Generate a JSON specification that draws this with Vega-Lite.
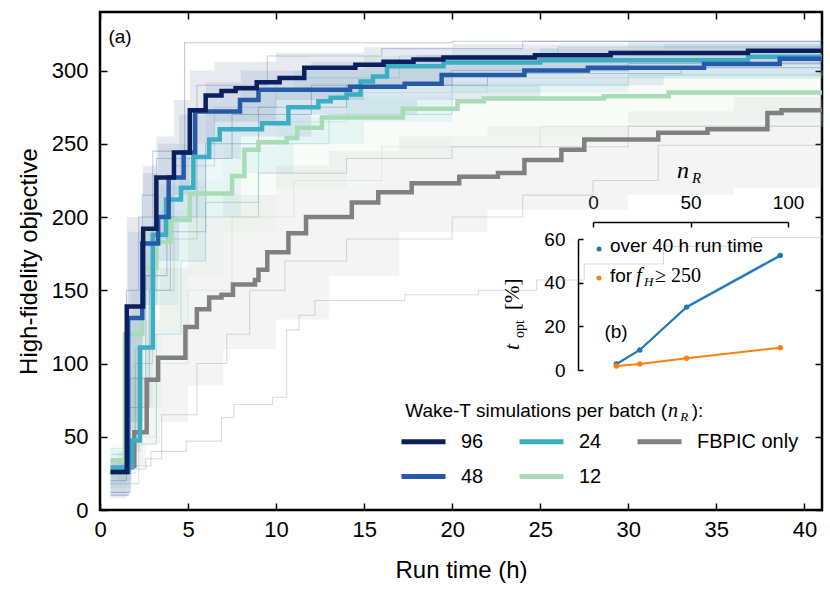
{
  "$schema": "https://vega.github.io/schema/vega-lite/v6.json",
  "width": 722,
  "height": 498,
  "autosize": "none",
  "padding": {"left": 100, "top": 12, "right": 8, "bottom": 83},
  "background": "white",
  "config": {
    "view": {"stroke": "black", "strokeWidth": 2.5},
    "font": "Liberation Sans",
    "axis": {
      "labelFont": "Liberation Sans", "titleFont": "Liberation Sans",
      "labelColor": "black", "titleColor": "black", "tickColor": "black",
      "domainColor": "black", "grid": false, "titleFontWeight": "normal",
      "labelFlush": false, "labelOverlap": false
    },
    "text": {"color": "black"}
  },
  "datasets": {
    "one": [{"id": 1}],
    "main": [
      {"s": "FBPIC only", "t": 1.6, "v": 30}, {"s": "FBPIC only", "t": 1.95, "v": 53}, {"s": "FBPIC only", "t": 2.65, "v": 89},
      {"s": "FBPIC only", "t": 3.3, "v": 104}, {"s": "FBPIC only", "t": 4.85, "v": 125}, {"s": "FBPIC only", "t": 5.5, "v": 137},
      {"s": "FBPIC only", "t": 6.2, "v": 145}, {"s": "FBPIC only", "t": 6.9, "v": 147}, {"s": "FBPIC only", "t": 7.55, "v": 154},
      {"s": "FBPIC only", "t": 8.8, "v": 157}, {"s": "FBPIC only", "t": 9.0, "v": 164}, {"s": "FBPIC only", "t": 9.5, "v": 176},
      {"s": "FBPIC only", "t": 10.7, "v": 189}, {"s": "FBPIC only", "t": 11.7, "v": 200}, {"s": "FBPIC only", "t": 14.3, "v": 210},
      {"s": "FBPIC only", "t": 15.8, "v": 217}, {"s": "FBPIC only", "t": 17.7, "v": 223}, {"s": "FBPIC only", "t": 20.4, "v": 227.5},
      {"s": "FBPIC only", "t": 22.6, "v": 230}, {"s": "FBPIC only", "t": 24.1, "v": 239}, {"s": "FBPIC only", "t": 26.2, "v": 246},
      {"s": "FBPIC only", "t": 27.5, "v": 253}, {"s": "FBPIC only", "t": 31.7, "v": 257.5}, {"s": "FBPIC only", "t": 34.5, "v": 260},
      {"s": "FBPIC only", "t": 37.9, "v": 271}, {"s": "FBPIC only", "t": 38.7, "v": 273}, {"s": "FBPIC only", "t": 41, "v": 273},
      {"s": "12", "t": 0.6, "v": 34}, {"s": "12", "t": 1.42, "v": 120}, {"s": "12", "t": 2.4, "v": 165},
      {"s": "12", "t": 3.2, "v": 183}, {"s": "12", "t": 4.0, "v": 198}, {"s": "12", "t": 5.1, "v": 216},
      {"s": "12", "t": 7.5, "v": 228}, {"s": "12", "t": 8.2, "v": 246}, {"s": "12", "t": 9.0, "v": 251},
      {"s": "12", "t": 10.6, "v": 254}, {"s": "12", "t": 11.2, "v": 261}, {"s": "12", "t": 12.6, "v": 268},
      {"s": "12", "t": 17.2, "v": 274}, {"s": "12", "t": 20.3, "v": 279}, {"s": "12", "t": 21.8, "v": 281},
      {"s": "12", "t": 28.6, "v": 282.5}, {"s": "12", "t": 32.3, "v": 285}, {"s": "12", "t": 41, "v": 285},
      {"s": "24", "t": 0.6, "v": 29}, {"s": "24", "t": 1.8, "v": 47.5}, {"s": "24", "t": 2.27, "v": 111},
      {"s": "24", "t": 3.0, "v": 188}, {"s": "24", "t": 3.75, "v": 212}, {"s": "24", "t": 4.6, "v": 220},
      {"s": "24", "t": 5.3, "v": 241}, {"s": "24", "t": 6.2, "v": 253}, {"s": "24", "t": 6.8, "v": 260},
      {"s": "24", "t": 9.2, "v": 264}, {"s": "24", "t": 10.7, "v": 275}, {"s": "24", "t": 12.4, "v": 279},
      {"s": "24", "t": 13.1, "v": 281.5}, {"s": "24", "t": 14.0, "v": 283.6}, {"s": "24", "t": 14.8, "v": 292.5},
      {"s": "24", "t": 15.5, "v": 296}, {"s": "24", "t": 16.3, "v": 303}, {"s": "24", "t": 19.5, "v": 305.5},
      {"s": "24", "t": 25, "v": 307}, {"s": "24", "t": 36.8, "v": 309.5}, {"s": "24", "t": 41, "v": 309.5},
      {"s": "48", "t": 0.6, "v": 26}, {"s": "48", "t": 1.6, "v": 131}, {"s": "48", "t": 2.4, "v": 182},
      {"s": "48", "t": 3.3, "v": 200}, {"s": "48", "t": 3.9, "v": 227}, {"s": "48", "t": 4.75, "v": 244},
      {"s": "48", "t": 5.4, "v": 272}, {"s": "48", "t": 7.95, "v": 280}, {"s": "48", "t": 9.0, "v": 287},
      {"s": "48", "t": 14.2, "v": 289}, {"s": "48", "t": 17.3, "v": 291}, {"s": "48", "t": 19.4, "v": 297},
      {"s": "48", "t": 24.1, "v": 300}, {"s": "48", "t": 27.7, "v": 302}, {"s": "48", "t": 34.3, "v": 304.5},
      {"s": "48", "t": 38.6, "v": 308}, {"s": "48", "t": 41, "v": 308},
      {"s": "96", "t": 0.6, "v": 26}, {"s": "96", "t": 1.52, "v": 139}, {"s": "96", "t": 2.45, "v": 192},
      {"s": "96", "t": 3.2, "v": 227}, {"s": "96", "t": 4.2, "v": 244}, {"s": "96", "t": 5.1, "v": 273},
      {"s": "96", "t": 6.0, "v": 283}, {"s": "96", "t": 6.9, "v": 286}, {"s": "96", "t": 7.7, "v": 288},
      {"s": "96", "t": 8.9, "v": 292}, {"s": "96", "t": 10.2, "v": 295}, {"s": "96", "t": 11.6, "v": 302},
      {"s": "96", "t": 14.5, "v": 304}, {"s": "96", "t": 16.1, "v": 306}, {"s": "96", "t": 17.8, "v": 307.5},
      {"s": "96", "t": 19.5, "v": 309}, {"s": "96", "t": 24.7, "v": 310.5}, {"s": "96", "t": 29.0, "v": 312},
      {"s": "96", "t": 36.8, "v": 313.5}, {"s": "96", "t": 41, "v": 313.5}
    ],
    "bands": [
      {"s": "FBPIC only", "t": 1.0, "lo": 20, "hi": 40}, {"s": "FBPIC only", "t": 1.8, "lo": 30, "hi": 90},
      {"s": "FBPIC only", "t": 2.6, "lo": 45, "hi": 130}, {"s": "FBPIC only", "t": 3.4, "lo": 60, "hi": 165},
      {"s": "FBPIC only", "t": 5, "lo": 85, "hi": 200}, {"s": "FBPIC only", "t": 7, "lo": 110, "hi": 215},
      {"s": "FBPIC only", "t": 10, "lo": 130, "hi": 235}, {"s": "FBPIC only", "t": 13, "lo": 160, "hi": 245},
      {"s": "FBPIC only", "t": 17, "lo": 190, "hi": 255}, {"s": "FBPIC only", "t": 22, "lo": 205, "hi": 262},
      {"s": "FBPIC only", "t": 30, "lo": 215, "hi": 272}, {"s": "FBPIC only", "t": 36, "lo": 220, "hi": 282},
      {"s": "FBPIC only", "t": 41, "lo": 222, "hi": 285},
      {"s": "12", "t": 0.6, "lo": 20, "hi": 45}, {"s": "12", "t": 1.4, "lo": 40, "hi": 130},
      {"s": "12", "t": 2.4, "lo": 70, "hi": 175}, {"s": "12", "t": 3.5, "lo": 120, "hi": 205},
      {"s": "12", "t": 5, "lo": 160, "hi": 225}, {"s": "12", "t": 7, "lo": 190, "hi": 248},
      {"s": "12", "t": 10, "lo": 220, "hi": 268}, {"s": "12", "t": 14, "lo": 240, "hi": 282},
      {"s": "12", "t": 20, "lo": 255, "hi": 292}, {"s": "12", "t": 30, "lo": 265, "hi": 298},
      {"s": "12", "t": 41, "lo": 270, "hi": 300},
      {"s": "24", "t": 0.6, "lo": 15, "hi": 42}, {"s": "24", "t": 1.8, "lo": 40, "hi": 150},
      {"s": "24", "t": 2.3, "lo": 70, "hi": 190}, {"s": "24", "t": 3.0, "lo": 140, "hi": 222},
      {"s": "24", "t": 4.5, "lo": 170, "hi": 250}, {"s": "24", "t": 6, "lo": 200, "hi": 272},
      {"s": "24", "t": 8, "lo": 230, "hi": 287}, {"s": "24", "t": 11, "lo": 250, "hi": 300},
      {"s": "24", "t": 15, "lo": 265, "hi": 310}, {"s": "24", "t": 20, "lo": 285, "hi": 315},
      {"s": "24", "t": 30, "lo": 295, "hi": 318}, {"s": "24", "t": 41, "lo": 298, "hi": 318},
      {"s": "48", "t": 0.6, "lo": 10, "hi": 35}, {"s": "48", "t": 1.6, "lo": 55, "hi": 190},
      {"s": "48", "t": 2.4, "lo": 140, "hi": 230}, {"s": "48", "t": 3.3, "lo": 170, "hi": 250},
      {"s": "48", "t": 4.5, "lo": 200, "hi": 270}, {"s": "48", "t": 6, "lo": 240, "hi": 292},
      {"s": "48", "t": 8, "lo": 255, "hi": 300}, {"s": "48", "t": 12, "lo": 270, "hi": 306},
      {"s": "48", "t": 18, "lo": 280, "hi": 311}, {"s": "48", "t": 25, "lo": 290, "hi": 315},
      {"s": "48", "t": 32, "lo": 296, "hi": 318}, {"s": "48", "t": 41, "lo": 298, "hi": 318},
      {"s": "96", "t": 0.6, "lo": 8, "hi": 35}, {"s": "96", "t": 1.52, "lo": 60, "hi": 200},
      {"s": "96", "t": 2.45, "lo": 150, "hi": 235}, {"s": "96", "t": 3.2, "lo": 185, "hi": 255},
      {"s": "96", "t": 4.2, "lo": 215, "hi": 280}, {"s": "96", "t": 5.1, "lo": 250, "hi": 300},
      {"s": "96", "t": 6.5, "lo": 265, "hi": 306}, {"s": "96", "t": 10, "lo": 280, "hi": 312},
      {"s": "96", "t": 15, "lo": 290, "hi": 316}, {"s": "96", "t": 20, "lo": 300, "hi": 318},
      {"s": "96", "t": 30, "lo": 304, "hi": 320}, {"s": "96", "t": 41, "lo": 305, "hi": 320}
    ],
    "runs": [
      {"s": "FBPIC only", "r": "Fa", "t": 1.5, "v": 30}, {"s": "FBPIC only", "r": "Fa", "t": 2.9, "v": 40},
      {"s": "FBPIC only", "r": "Fa", "t": 4.9, "v": 47}, {"s": "FBPIC only", "r": "Fa", "t": 6.9, "v": 63},
      {"s": "FBPIC only", "r": "Fa", "t": 7.6, "v": 72}, {"s": "FBPIC only", "r": "Fa", "t": 9.8, "v": 77},
      {"s": "FBPIC only", "r": "Fa", "t": 10.6, "v": 123}, {"s": "FBPIC only", "r": "Fa", "t": 11.3, "v": 133},
      {"s": "FBPIC only", "r": "Fa", "t": 12.2, "v": 143}, {"s": "FBPIC only", "r": "Fa", "t": 17.3, "v": 147},
      {"s": "FBPIC only", "r": "Fa", "t": 21.5, "v": 150}, {"s": "FBPIC only", "r": "Fa", "t": 24.8, "v": 157},
      {"s": "FBPIC only", "r": "Fa", "t": 27.5, "v": 168}, {"s": "FBPIC only", "r": "Fa", "t": 32, "v": 180},
      {"s": "FBPIC only", "r": "Fa", "t": 37, "v": 186}, {"s": "FBPIC only", "r": "Fa", "t": 41, "v": 188},
      {"s": "FBPIC only", "r": "Fb", "t": 1.5, "v": 28}, {"s": "FBPIC only", "r": "Fb", "t": 2.6, "v": 35},
      {"s": "FBPIC only", "r": "Fb", "t": 3.5, "v": 65}, {"s": "FBPIC only", "r": "Fb", "t": 5.5, "v": 100},
      {"s": "FBPIC only", "r": "Fb", "t": 7.2, "v": 120}, {"s": "FBPIC only", "r": "Fb", "t": 8.5, "v": 150},
      {"s": "FBPIC only", "r": "Fb", "t": 10.5, "v": 170}, {"s": "FBPIC only", "r": "Fb", "t": 14, "v": 185},
      {"s": "FBPIC only", "r": "Fb", "t": 20, "v": 200}, {"s": "FBPIC only", "r": "Fb", "t": 24, "v": 215},
      {"s": "FBPIC only", "r": "Fb", "t": 28, "v": 225}, {"s": "FBPIC only", "r": "Fb", "t": 31.7, "v": 249},
      {"s": "FBPIC only", "r": "Fb", "t": 41, "v": 250},
      {"s": "FBPIC only", "r": "Fc", "t": 1.3, "v": 35}, {"s": "FBPIC only", "r": "Fc", "t": 2.0, "v": 100},
      {"s": "FBPIC only", "r": "Fc", "t": 3.0, "v": 150}, {"s": "FBPIC only", "r": "Fc", "t": 4.2, "v": 185},
      {"s": "FBPIC only", "r": "Fc", "t": 5.5, "v": 200}, {"s": "FBPIC only", "r": "Fc", "t": 9, "v": 230},
      {"s": "FBPIC only", "r": "Fc", "t": 14, "v": 240}, {"s": "FBPIC only", "r": "Fc", "t": 20, "v": 248},
      {"s": "FBPIC only", "r": "Fc", "t": 30, "v": 262}, {"s": "FBPIC only", "r": "Fc", "t": 41, "v": 280},
      {"s": "12", "r": "12a", "t": 0.6, "v": 42}, {"s": "12", "r": "12a", "t": 1.8, "v": 100},
      {"s": "12", "r": "12a", "t": 2.8, "v": 190}, {"s": "12", "r": "12a", "t": 4, "v": 220},
      {"s": "12", "r": "12a", "t": 6, "v": 250}, {"s": "12", "r": "12a", "t": 9, "v": 265},
      {"s": "12", "r": "12a", "t": 14, "v": 285}, {"s": "12", "r": "12a", "t": 22, "v": 295},
      {"s": "12", "r": "12a", "t": 41, "v": 300},
      {"s": "12", "r": "12b", "t": 0.6, "v": 25}, {"s": "12", "r": "12b", "t": 2.0, "v": 50},
      {"s": "12", "r": "12b", "t": 3.2, "v": 100}, {"s": "12", "r": "12b", "t": 5, "v": 150},
      {"s": "12", "r": "12b", "t": 7.5, "v": 200}, {"s": "12", "r": "12b", "t": 11, "v": 225},
      {"s": "12", "r": "12b", "t": 16, "v": 248}, {"s": "12", "r": "12b", "t": 25, "v": 262},
      {"s": "12", "r": "12b", "t": 41, "v": 270},
      {"s": "24", "r": "24a", "t": 0.6, "v": 38}, {"s": "24", "r": "24a", "t": 2.0, "v": 110},
      {"s": "24", "r": "24a", "t": 3.0, "v": 200}, {"s": "24", "r": "24a", "t": 4.2, "v": 235},
      {"s": "24", "r": "24a", "t": 6.5, "v": 275}, {"s": "24", "r": "24a", "t": 10, "v": 295},
      {"s": "24", "r": "24a", "t": 17, "v": 310}, {"s": "24", "r": "24a", "t": 26, "v": 316},
      {"s": "24", "r": "24a", "t": 41, "v": 318},
      {"s": "24", "r": "24b", "t": 0.6, "v": 18}, {"s": "24", "r": "24b", "t": 2.2, "v": 45},
      {"s": "24", "r": "24b", "t": 3.2, "v": 120}, {"s": "24", "r": "24b", "t": 4.6, "v": 170},
      {"s": "24", "r": "24b", "t": 6, "v": 210}, {"s": "24", "r": "24b", "t": 9, "v": 250},
      {"s": "24", "r": "24b", "t": 13, "v": 270}, {"s": "24", "r": "24b", "t": 20, "v": 290},
      {"s": "24", "r": "24b", "t": 30, "v": 297}, {"s": "24", "r": "24b", "t": 41, "v": 300},
      {"s": "48", "r": "48a", "t": 0.6, "v": 30}, {"s": "48", "r": "48a", "t": 1.5, "v": 120},
      {"s": "48", "r": "48a", "t": 2.4, "v": 215}, {"s": "48", "r": "48a", "t": 3.2, "v": 240},
      {"s": "48", "r": "48a", "t": 5.5, "v": 290}, {"s": "48", "r": "48a", "t": 9.5, "v": 310},
      {"s": "48", "r": "48a", "t": 16, "v": 315}, {"s": "48", "r": "48a", "t": 24, "v": 320},
      {"s": "48", "r": "48a", "t": 41, "v": 321},
      {"s": "48", "r": "48b", "t": 0.6, "v": 10}, {"s": "48", "r": "48b", "t": 1.6, "v": 70},
      {"s": "48", "r": "48b", "t": 2.8, "v": 150}, {"s": "48", "r": "48b", "t": 4, "v": 190},
      {"s": "48", "r": "48b", "t": 6, "v": 250}, {"s": "48", "r": "48b", "t": 9, "v": 275},
      {"s": "48", "r": "48b", "t": 14, "v": 290}, {"s": "48", "r": "48b", "t": 22, "v": 298},
      {"s": "48", "r": "48b", "t": 33, "v": 302}, {"s": "48", "r": "48b", "t": 41, "v": 303},
      {"s": "96", "r": "96a", "t": 0.6, "v": 20}, {"s": "96", "r": "96a", "t": 1.5, "v": 150},
      {"s": "96", "r": "96a", "t": 2.2, "v": 200}, {"s": "96", "r": "96a", "t": 3, "v": 245},
      {"s": "96", "r": "96a", "t": 4.8, "v": 319}, {"s": "96", "r": "96a", "t": 20, "v": 320},
      {"s": "96", "r": "96a", "t": 41, "v": 323},
      {"s": "96", "r": "96b", "t": 0.6, "v": 12}, {"s": "96", "r": "96b", "t": 1.7, "v": 90},
      {"s": "96", "r": "96b", "t": 2.6, "v": 160}, {"s": "96", "r": "96b", "t": 3.8, "v": 200},
      {"s": "96", "r": "96b", "t": 5.5, "v": 240}, {"s": "96", "r": "96b", "t": 7.5, "v": 270},
      {"s": "96", "r": "96b", "t": 12, "v": 290}, {"s": "96", "r": "96b", "t": 20, "v": 300},
      {"s": "96", "r": "96b", "t": 30, "v": 305}, {"s": "96", "r": "96b", "t": 41, "v": 308}
    ],
    "inset": [
      {"k": "time", "n": 12, "v": 2.7, "lo": 2.1, "hi": 3.3},
      {"k": "time", "n": 24, "v": 9.2, "lo": 8.6, "hi": 9.8},
      {"k": "time", "n": 48, "v": 28.8, "lo": 28.0, "hi": 29.6},
      {"k": "time", "n": 96, "v": 52.4, "lo": 51.5, "hi": 53.3},
      {"k": "fh", "n": 12, "v": 1.8, "lo": 1.8, "hi": 1.8},
      {"k": "fh", "n": 24, "v": 2.7, "lo": 2.7, "hi": 2.7},
      {"k": "fh", "n": 48, "v": 5.4, "lo": 5.4, "hi": 5.4},
      {"k": "fh", "n": 96, "v": 10.2, "lo": 10.2, "hi": 10.2}
    ]
  },
  "layer": [
    {
      "layer": [
        {
          "data": {"name": "bands"},
          "mark": {"type": "area", "interpolate": "step-after", "fillOpacity": 0.11},
          "encoding": {
            "x": {"field": "t", "type": "quantitative", "scale": {"domain": [0, 41], "nice": false},
              "axis": {"orient": "bottom", "values": [0, 5, 10, 15, 20, 25, 30, 35, 40], "domain": false,
                "tickSize": -7, "tickWidth": 1.5, "labelFontSize": 22, "labelPadding": 16,
                "title": "Run time (h)", "titleFontSize": 24, "titlePadding": 18}},
            "y": {"field": "lo", "type": "quantitative", "scale": {"domain": [0, 340], "nice": false},
              "axis": {"orient": "left", "values": [0, 50, 100, 150, 200, 250, 300], "domain": false,
                "tickSize": -7, "tickWidth": 1.5, "labelFontSize": 22, "labelPadding": 19,
                "title": "High-fidelity objective", "titleFontSize": 24, "titlePadding": 10}},
            "y2": {"field": "hi"},
            "fill": {"field": "s", "type": "nominal", "legend": null,
              "scale": {"domain": ["FBPIC only", "12", "24", "48", "96"],
                "range": ["#9a9a9a", "#b5e2c2", "#5cbccb", "#2f63a8", "#2a3f78"]}}
          }
        },
        {
          "data": {"name": "runs"},
          "mark": {"type": "line", "interpolate": "step-after", "strokeWidth": 1.1, "opacity": 0.3},
          "encoding": {
            "x": {"field": "t", "type": "quantitative"},
            "y": {"field": "v", "type": "quantitative"},
            "detail": {"field": "r"},
            "stroke": {"field": "s", "type": "nominal", "legend": null,
              "scale": {"domain": ["12", "FBPIC only", "24", "96", "48"],
                "range": ["#9fd6b0", "#8a8a8a", "#50b4c4", "#3a4f88", "#3a6cb0"]}}
          }
        },
        {
          "data": {"name": "main"},
          "mark": {"type": "line", "interpolate": "step-after", "strokeWidth": 4.5},
          "encoding": {
            "x": {"field": "t", "type": "quantitative"},
            "y": {"field": "v", "type": "quantitative"},
            "color": {"field": "s", "type": "nominal",
              "scale": {"domain": ["96", "48", "24", "12", "FBPIC only"],
                "range": ["#0b1f5c", "#245aa7", "#3caec4", "#a8dcb7", "#808080"]},
              "legend": {"orient": "none", "legendX": 299, "legendY": 405, "title": null, "columns": 3,
                "symbolType": "stroke", "symbolSize": 1936, "symbolStrokeWidth": 5,
                "labelFontSize": 20, "labelFont": "Liberation Sans", "labelColor": "black",
                "labelOffset": 13, "columnPadding": 25, "rowPadding": -6, "padding": 0}}
          }
        },
        {
          "data": {"name": "one"},
          "mark": {"type": "text", "text": "(a)", "fontSize": 19, "align": "center", "baseline": "middle"},
          "encoding": {"x": {"datum": 1.14, "type": "quantitative"}, "y": {"datum": 323, "type": "quantitative"}}
        },
        {
          "data": {"name": "one"},
          "mark": {"type": "text", "text": "Wake-T simulations per batch (", "fontSize": 19, "align": "left", "baseline": "alphabetic"},
          "encoding": {"x": {"datum": 17.33, "type": "quantitative"}, "y": {"datum": 63.4, "type": "quantitative"}}
        },
        {
          "data": {"name": "one"},
          "mark": {"type": "text", "text": "n", "font": "Liberation Serif", "fontStyle": "italic", "fontSize": 20, "align": "left", "baseline": "alphabetic"},
          "encoding": {"x": {"datum": 32.25, "type": "quantitative"}, "y": {"datum": 63.4, "type": "quantitative"}}
        },
        {
          "data": {"name": "one"},
          "mark": {"type": "text", "text": "R", "font": "Liberation Serif", "fontStyle": "italic", "fontSize": 13, "align": "left", "baseline": "alphabetic", "dy": 4},
          "encoding": {"x": {"datum": 32.95, "type": "quantitative"}, "y": {"datum": 63.4, "type": "quantitative"}}
        },
        {
          "data": {"name": "one"},
          "mark": {"type": "text", "text": "):", "fontSize": 19, "align": "left", "baseline": "alphabetic"},
          "encoding": {"x": {"datum": 33.6, "type": "quantitative"}, "y": {"datum": 63.4, "type": "quantitative"}}
        }
      ]
    },
    {
      "layer": [
        {
          "data": {"name": "inset"},
          "transform": [{"filter": "datum.k == 'time'"}],
          "mark": {"type": "area", "color": "#1f77b4", "opacity": 0.3},
          "encoding": {
            "x": {"field": "n", "type": "quantitative", "scale": {"domain": [0, 100], "range": [493, 688], "nice": false},
              "axis": {"orient": "top", "offset": -210, "values": [0, 50, 100], "domain": true, "domainWidth": 1.5,
                "tickSize": -5, "tickWidth": 1.5, "labelFontSize": 19, "labelPadding": 15, "title": null}},
            "y": {"field": "lo", "type": "quantitative", "scale": {"domain": [0, 60], "range": [358, 227], "nice": false},
              "axis": {"orient": "left", "offset": -478, "values": [0, 20, 40, 60], "domain": true, "domainWidth": 1.5,
                "tickSize": -5, "tickWidth": 1.5, "labelFontSize": 19, "labelPadding": 18, "title": null}},
            "y2": {"field": "hi"}
          }
        },
        {
          "data": {"name": "inset"},
          "transform": [{"filter": "datum.k == 'time'"}],
          "mark": {"type": "line", "color": "#1f77b4", "strokeWidth": 2, "point": {"filled": true, "size": 30, "color": "#1f77b4"}},
          "encoding": {"x": {"field": "n", "type": "quantitative"}, "y": {"field": "v", "type": "quantitative"}}
        },
        {
          "data": {"name": "inset"},
          "transform": [{"filter": "datum.k == 'fh'"}],
          "mark": {"type": "line", "color": "#ff7f0e", "strokeWidth": 2, "point": {"filled": true, "size": 30, "color": "#ff7f0e"}},
          "encoding": {"x": {"field": "n", "type": "quantitative"}, "y": {"field": "v", "type": "quantitative"}}
        },
        {
          "data": {"name": "one"},
          "mark": {"type": "point", "filled": true, "size": 25, "color": "#1f77b4", "opacity": 1},
          "encoding": {"x": {"datum": 3.1, "type": "quantitative"}, "y": {"datum": 55.4, "type": "quantitative"}}
        },
        {
          "data": {"name": "one"},
          "mark": {"type": "point", "filled": true, "size": 25, "color": "#ff7f0e", "opacity": 1},
          "encoding": {"x": {"datum": 3.1, "type": "quantitative"}, "y": {"datum": 42.1, "type": "quantitative"}}
        },
        {
          "data": {"name": "one"},
          "mark": {"type": "text", "text": "over 40 h run time", "fontSize": 19, "align": "left", "baseline": "alphabetic"},
          "encoding": {"x": {"datum": 8.7, "type": "quantitative"}, "y": {"datum": 54.1, "type": "quantitative"}}
        },
        {
          "data": {"name": "one"},
          "mark": {"type": "text", "text": "for", "fontSize": 19, "align": "left", "baseline": "alphabetic"},
          "encoding": {"x": {"datum": 8.7, "type": "quantitative"}, "y": {"datum": 40.3, "type": "quantitative"}}
        },
        {
          "data": {"name": "one"},
          "mark": {"type": "text", "text": "f", "font": "Liberation Serif", "fontStyle": "italic", "fontSize": 21, "align": "left", "baseline": "alphabetic"},
          "encoding": {"x": {"datum": 22, "type": "quantitative"}, "y": {"datum": 40.3, "type": "quantitative"}}
        },
        {
          "data": {"name": "one"},
          "mark": {"type": "text", "text": "H", "font": "Liberation Serif", "fontStyle": "italic", "fontSize": 13, "align": "left", "baseline": "alphabetic", "dy": 4},
          "encoding": {"x": {"datum": 26.2, "type": "quantitative"}, "y": {"datum": 40.3, "type": "quantitative"}}
        },
        {
          "data": {"name": "one"},
          "mark": {"type": "text", "text": "≥ 250", "font": "Liberation Serif", "fontSize": 20, "align": "left", "baseline": "alphabetic"},
          "encoding": {"x": {"datum": 31.8, "type": "quantitative"}, "y": {"datum": 40.3, "type": "quantitative"}}
        },
        {
          "data": {"name": "one"},
          "mark": {"type": "text", "text": "(b)", "fontSize": 19, "align": "center", "baseline": "middle"},
          "encoding": {"x": {"datum": 11.8, "type": "quantitative"}, "y": {"datum": 17.4, "type": "quantitative"}}
        },
        {
          "data": {"name": "one"},
          "mark": {"type": "text", "text": "n", "font": "Liberation Serif", "fontStyle": "italic", "fontSize": 24, "align": "left", "baseline": "alphabetic"},
          "encoding": {"x": {"datum": 43.1, "type": "quantitative"}, "y": {"datum": 88, "type": "quantitative"}}
        },
        {
          "data": {"name": "one"},
          "mark": {"type": "text", "text": "R", "font": "Liberation Serif", "fontStyle": "italic", "fontSize": 15, "align": "left", "baseline": "alphabetic", "dy": 5},
          "encoding": {"x": {"datum": 50.8, "type": "quantitative"}, "y": {"datum": 88, "type": "quantitative"}}
        },
        {
          "data": {"name": "one"},
          "mark": {"type": "text", "text": "t", "font": "Liberation Serif", "fontStyle": "italic", "fontSize": 22, "align": "left", "baseline": "alphabetic", "angle": 270},
          "encoding": {"x": {"datum": -37.9, "type": "quantitative"}, "y": {"datum": 9.2, "type": "quantitative"}}
        },
        {
          "data": {"name": "one"},
          "mark": {"type": "text", "text": "opt", "font": "Liberation Serif", "fontSize": 14, "align": "left", "baseline": "alphabetic", "angle": 270, "dx": 12, "dy": 5},
          "encoding": {"x": {"datum": -37.9, "type": "quantitative"}, "y": {"datum": 9.2, "type": "quantitative"}}
        },
        {
          "data": {"name": "one"},
          "mark": {"type": "text", "text": "[%]", "font": "Liberation Serif", "fontSize": 21, "align": "left", "baseline": "alphabetic", "angle": 270, "dx": 40},
          "encoding": {"x": {"datum": -37.9, "type": "quantitative"}, "y": {"datum": 9.2, "type": "quantitative"}}
        }
      ]
    },
    {
      "data": {"name": "main"},
      "mark": {"type": "point", "opacity": 0},
      "encoding": {
        "x": {"field": "t", "type": "quantitative", "scale": {"domain": [0, 41], "nice": false},
          "axis": {"orient": "top", "values": [0, 5, 10, 15, 20, 25, 30, 35, 40], "domain": false, "labels": false,
            "tickSize": -7, "tickWidth": 1.5, "title": null}},
        "y": {"field": "v", "type": "quantitative", "scale": {"domain": [0, 340], "nice": false},
          "axis": {"orient": "right", "values": [0, 50, 100, 150, 200, 250, 300], "domain": false, "labels": false,
            "tickSize": -7, "tickWidth": 1.5, "title": null}}
      }
    }
  ],
  "resolve": {"scale": {"x": "independent", "y": "independent"}}
}
